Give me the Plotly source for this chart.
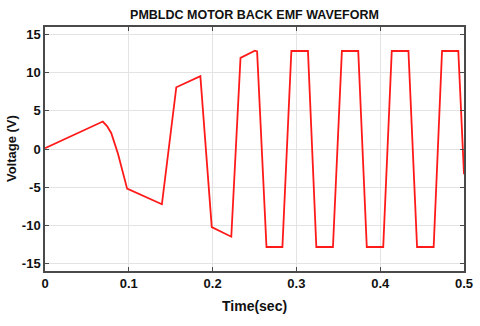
import plotly.graph_objects as go

# back-EMF trace
time_s = [0, 0.069, 0.074, 0.079, 0.087, 0.098, 0.1395, 0.1567, 0.1854,
          0.1990, 0.2223, 0.2333, 0.2504, 0.2531, 0.2643, 0.2833, 0.2940,
          0.3138, 0.3238, 0.3436, 0.3543, 0.3738, 0.3840, 0.4036, 0.4138,
          0.4337, 0.4440, 0.4638, 0.4738, 0.4932, 0.5]
voltage = [0.1, 3.6, 3.0, 2.1, -0.6, -5.2, -7.25, 8.1, 9.55,
           -10.25, -11.5, 11.95, 12.9, 12.8, -12.85, -12.85, 12.85,
           12.85, -12.85, -12.85, 12.85, 12.85, -12.85, -12.85, 12.85,
           12.85, -12.85, -12.85, 12.85, 12.85, -3.3]

x_ticks = [0, 0.1, 0.2, 0.3, 0.4, 0.5]
y_ticks = [-15, -10, -5, 0, 5, 10, 15]

FONT = "Liberation Sans, Arial, sans-serif"
AXIS = dict(
    showline=True, linecolor="#4a4a4a", linewidth=1.5, mirror="ticks",
    ticks="inside", ticklen=4, tickcolor="#4a4a4a", tickwidth=1,
    showgrid=True, gridcolor="#e3e3e3", gridwidth=1, zeroline=False,
    automargin=False,
    tickfont=dict(family=FONT, size=13, color="#111111", weight="bold"),
)

fig = go.Figure()
fig.add_trace(go.Scatter(
    x=time_s, y=voltage, mode="lines",
    line=dict(color="#ff1a1a", width=1.8),
    hoverinfo="skip",
))

fig.update_layout(
    width=480, height=326,
    paper_bgcolor="white", plot_bgcolor="white",
    showlegend=False,
    margin=dict(l=45, r=16, t=27, b=55),
    title=dict(
        text="<b>PMBLDC MOTOR BACK EMF WAVEFORM</b>",
        x=0.5, xref="paper", xanchor="center",
        y=0.956, yref="container", yanchor="middle",
        font=dict(family=FONT, size=12.5, color="#111111"),
    ),
)
fig.update_xaxes(
    range=[0, 0.5], tickvals=x_ticks, ticktext=[str(v) for v in x_ticks],
    **AXIS,
)
fig.update_yaxes(
    range=[-16, 16], tickvals=y_ticks, ticktext=[str(v) for v in y_ticks],
    **AXIS,
)

# axis titles placed as annotations so the plot frame stays put
fig.add_annotation(
    text="<b>Time(sec)</b>", xref="paper", yref="paper",
    x=0.5, y=-0.143, xanchor="center", yanchor="middle", showarrow=False,
    font=dict(family=FONT, size=14, color="#111111"),
)
fig.add_annotation(
    text="<b>Voltage (V)</b>", xref="paper", yref="paper", textangle=-90,
    x=-0.081, y=0.5, xanchor="center", yanchor="middle", showarrow=False,
    font=dict(family=FONT, size=13, color="#111111"),
)

# drop the default 8px body margin so the figure fills the window
fig.write_html(
    "out.html",
    config={"displayModeBar": False},
    post_script="document.body.style.margin = '0';",
)
